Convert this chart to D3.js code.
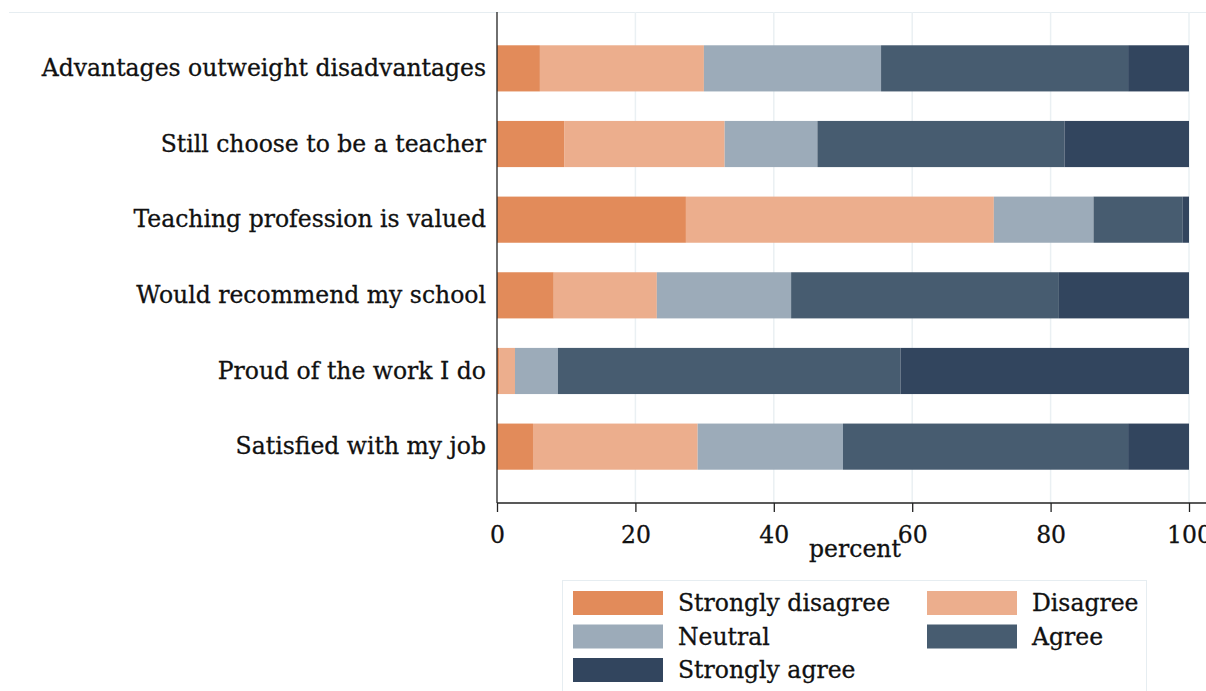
<!DOCTYPE html>
<html>
<head>
<meta charset="utf-8">
<script src="https://cdn.jsdelivr.net/npm/d3@7"></script>
<style>
  body { margin: 0; background: #fff; }
  svg text { font-family: "DejaVu Serif", "Liberation Serif", serif; fill: #111; stroke: #111; stroke-width: 0.3px; }
</style>
</head>
<body>
<div id="chart-area"></div>
<script>
// items, top to bottom
var items = [
    "Advantages outweight disadvantages",
    "Still choose to be a teacher",
    "Teaching profession is valued",
    "Would recommend my school",
    "Proud of the work I do",
    "Satisfied with my job"
];
var responses = ["Strongly disagree", "Disagree", "Neutral", "Agree", "Strongly agree"];
var colors = ["#e28b5a", "#ecae8d", "#9cabb9", "#475c70", "#32455e"];

// percent per item, one array per response level
var stronglyDisagree = [6.2, 9.7, 27.3, 8.2, 0.3, 5.2];
var disagree         = [23.7, 23.2, 44.5, 14.9, 2.3, 23.8];
var neutral          = [25.6, 13.4, 14.4, 19.4, 6.2, 21.0];
var agree            = [35.7, 35.7, 12.9, 38.7, 49.5, 41.2];
var stronglyAgree    = [8.8, 18.0, 0.9, 18.8, 41.7, 8.8];
var xTicks = [0, 20, 40, 60, 80, 100];

var rows = items.map(function (d, i) {
    return {
        item: d,
        "Strongly disagree": stronglyDisagree[i],
        "Disagree": disagree[i],
        "Neutral": neutral[i],
        "Agree": agree[i],
        "Strongly agree": stronglyAgree[i]
    };
});

var width = 1206, height = 691;
var plot = { left: 497, right: 1189, top: 12, bottom: 503 };
var fontSize = "23.5px";

var svg = d3.select("#chart-area")
    .append("svg")
    .attr("width", width)
    .attr("height", height);

// light outer frame line at the top
svg.append("line")
    .attr("x1", 9).attr("x2", width)
    .attr("y1", 12.5).attr("y2", 12.5)
    .attr("stroke", "#e6edf1").attr("stroke-width", 1);

var x = d3.scaleLinear().domain([0, 100]).range([plot.left, plot.right]);
var y = d3.scaleBand().domain(items).range([plot.top, plot.bottom])
    .paddingInner(0.39).paddingOuter(0.44);

// grid
svg.append("g")
    .selectAll("line")
    .data(xTicks.filter(function (d) { return d > 0; }))
    .enter().append("line")
    .attr("x1", function (d) { return x(d); })
    .attr("x2", function (d) { return x(d); })
    .attr("y1", plot.top).attr("y2", plot.bottom)
    .attr("stroke", "#eaf0f3").attr("stroke-width", 1.5);

var series = d3.stack().keys(responses)(rows);

svg.append("g")
    .selectAll("g")
    .data(series)
    .enter().append("g")
    .attr("fill", function (d, i) { return colors[i]; })
    .selectAll("rect")
    .data(function (d) { return d; })
    .enter().append("rect")
    .attr("x", function (d) { return x(d[0]); })
    .attr("width", function (d) { return x(d[1]) - x(d[0]); })
    .attr("y", function (d) { return y(d.data.item); })
    .attr("height", y.bandwidth());

// x axis
var xAxis = svg.append("g")
    .attr("transform", "translate(0," + plot.bottom + ")")
    .call(d3.axisBottom(x).tickValues(xTicks).tickSize(9).tickPadding(14));
xAxis.select(".domain").remove();
xAxis.append("line")
    .attr("x1", plot.left).attr("x2", width)
    .attr("stroke", "#222").attr("stroke-width", 1.3);
xAxis.selectAll(".tick line").attr("stroke", "#222").attr("stroke-width", 1.3);
xAxis.selectAll(".tick text")
    .style("font-family", "DejaVu Serif")
    .style("font-size", fontSize)
    .attr("fill", "#111");

// y axis
var yAxis = svg.append("g")
    .attr("transform", "translate(" + plot.left + ",0)")
    .call(d3.axisLeft(y).tickSize(0).tickPadding(11));
yAxis.select(".domain").remove();
yAxis.append("line")
    .attr("y1", plot.top).attr("y2", plot.bottom)
    .attr("stroke", "#222").attr("stroke-width", 1.3);
yAxis.selectAll(".tick text")
    .style("font-family", "DejaVu Serif")
    .style("font-size", fontSize)
    .attr("fill", "#111");

svg.append("text")
    .attr("x", 855).attr("y", 557)
    .attr("text-anchor", "middle")
    .style("font-size", fontSize)
    .text("percent");

// legend
var legend = svg.append("g");
legend.append("rect")
    .attr("x", 562.5).attr("y", 580.5)
    .attr("width", 584).attr("height", 130)
    .attr("fill", "none").attr("stroke", "#e6edf1");

var legendItems = legend.selectAll("g")
    .data(responses)
    .enter().append("g")
    .attr("transform", function (d, i) {
        return "translate(" + (573 + (i % 2) * 354) + "," + (591 + Math.floor(i / 2) * 33.5) + ")";
    });
legendItems.append("rect")
    .attr("width", 90).attr("height", 24)
    .attr("fill", function (d, i) { return colors[i]; });
legendItems.append("text")
    .attr("x", 105).attr("y", 12)
    .attr("dy", "0.35em")
    .style("font-size", fontSize)
    .text(function (d) { return d; });
</script>
</body>
</html>
